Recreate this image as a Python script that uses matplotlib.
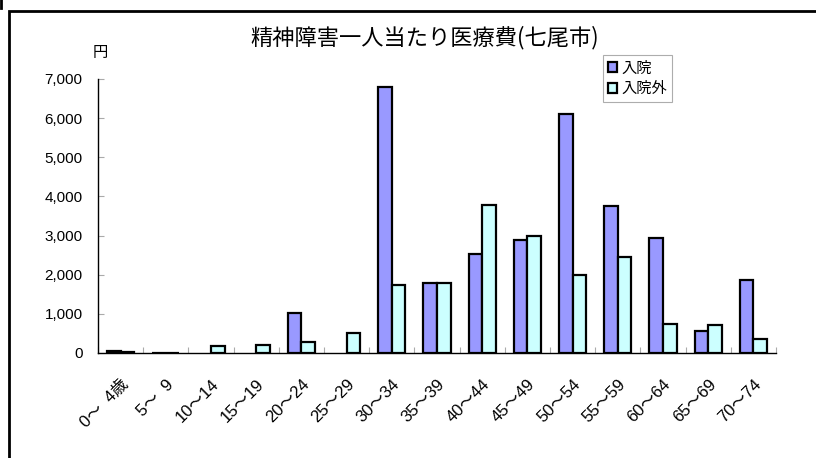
import matplotlib
matplotlib.use("Agg")
import matplotlib.pyplot as plt
from matplotlib.patches import Rectangle
from matplotlib.lines import Line2D
import numpy as np

plt.rcParams['font.family'] = ['Liberation Sans', 'Noto Sans CJK JP', 'DejaVu Sans']

categories = ["0～  4歳", "5～  9", "10～14", "15～19", "20～24", "25～29", "30～34",
              "35～39", "40～44", "45～49", "50～54", "55～59", "60～64", "65～69", "70～74"]
inpatient = [40, 10, 0, 0, 1010, 0, 6790, 1780, 2520, 2880, 6110, 3750, 2930, 560, 1870]
outpatient = [30, 10, 180, 210, 270, 500, 1750, 1800, 3790, 2990, 1990, 2450, 740, 720, 350]
yticks = [0, 1000, 2000, 3000, 4000, 5000, 6000, 7000]
title = "精神障害一人当たり医療費(七尾市)"
series_names = ["入院", "入院外"]

W, H = 816, 458
fig = plt.figure(figsize=(W / 100, H / 100), dpi=100)
ax = fig.add_axes([98 / W, 1 - 353 / H, (776 - 98) / W, (353 - 79) / H])

x = np.arange(len(categories))
bw = 0.3
b1 = ax.bar(x + 0.5 - bw, inpatient, width=bw, align='edge', color='#9999FF',
            edgecolor='black', linewidth=1.6, label=series_names[0])
b2 = ax.bar(x + 0.5, outpatient, width=bw, align='edge', color='#CCFFFF',
            edgecolor='black', linewidth=1.6, label=series_names[1])
for bars, vals in ((b1, inpatient), (b2, outpatient)):
    for r, v in zip(bars, vals):
        if v == 0:
            r.set_visible(False)

ax.set_xlim(0, len(categories))
ax.set_ylim(0, 7000)
ax.set_yticks(yticks)
ax.set_yticklabels([f"{v:,}" for v in yticks], fontsize=11)
ax.set_xticks(np.arange(len(categories) + 1))
ax.set_xticklabels([])
ax.set_xticks(x + 0.5, minor=True)
ax.set_xticklabels(categories, minor=True, rotation=45, ha='right', va='top',
                   rotation_mode='anchor', fontsize=12)
ax.tick_params(axis='x', which='minor', length=0, pad=17)
ax.tick_params(axis='x', which='major', direction='in', length=4, color='#aaaaaa')
ax.tick_params(axis='y', direction='in', length=4, color='#aaaaaa', pad=11)

for s in ['top', 'right']:
    ax.spines[s].set_visible(False)
ax.spines['left'].set_linewidth(1.0)
ax.spines['bottom'].set_linewidth(1.0)

fig.text(425 / W, 1 - 38 / H, title, ha='center', va='center', fontsize=16,
         family=['Noto Sans CJK JP', 'DejaVu Sans'])
fig.text(100 / W, 1 - 53 / H, "円", ha='center', va='center', fontsize=11,
         family=['Noto Sans CJK JP', 'DejaVu Sans'])

leg = ax.legend(loc='upper left', bbox_to_anchor=((603 - 98) / (776 - 98), 1 + (79 - 55) / (353 - 79)),
                prop={'family': ['Noto Sans CJK JP', 'DejaVu Sans'], 'size': 11},
                frameon=True, fancybox=False, handlelength=0.6, handleheight=0.6,
                handletextpad=0.3, borderpad=0.3, labelspacing=0.25, borderaxespad=0)
leg.get_frame().set_edgecolor('#999999')
leg.get_frame().set_linewidth(0.8)

# outer chart frame (partially cropped)
fig.patches.append(Rectangle((9 / W, -0.1), 1.1, 1.1 - 11 / H, transform=fig.transFigure,
                             fill=False, edgecolor='black', linewidth=2))
fig.lines.append(Line2D([1 / W, 1 / W], [1, 1 - 8 / H], transform=fig.transFigure,
                        color='black', linewidth=2))

fig.savefig("out.png", dpi=100)
